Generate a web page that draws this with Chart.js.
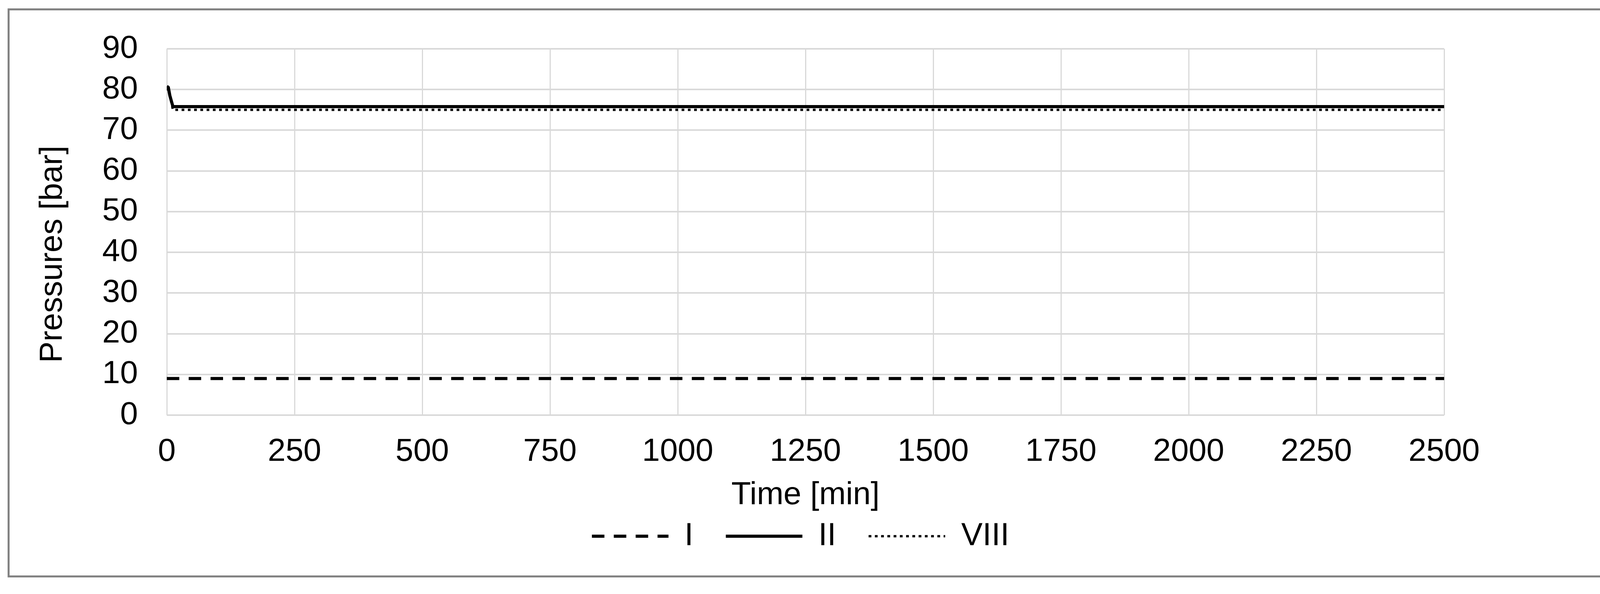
<!DOCTYPE html>
<html>
<head>
<meta charset="utf-8">
<script src="https://cdn.jsdelivr.net/npm/chart.js@4.4.1/dist/chart.umd.min.js"></script>
<style>
  html, body { margin: 0; padding: 0; background: #fff; }
  #wrap { position: absolute; left: 0; top: 0; width: 4161px; height: 1521px; }
</style>
</head>
<body>
<div id="wrap"><canvas id="pressureChart" width="4161" height="1521"></canvas></div>
<script>
// series I (dashed)
const timeI = [0, 2500];
const pressureI = [9, 9];

// series II (solid)
const timeII = [0, 3, 6, 12, 2500];
const pressureII = [80.8, 80.5, 78.5, 75.8, 75.8];

// series VIII (dotted)
const timeVIII = [0, 4, 12, 2500];
const pressureVIII = [80.2, 79.8, 75.0, 75.0];

const seriesLabels = ['I', 'II', 'VIII'];

const xMin = 0, xMax = 2500, xStep = 250;
const yMin = 0, yMax = 90, yStep = 10;

function toPoints(xs, ys) {
    return xs.map((x, i) => ({ x: x, y: ys[i] }));
}

const FONT = '"Liberation Sans", Arial, sans-serif';

// white page + grey outer frame
const framePlugin = {
    id: 'frame',
    beforeDraw(chart) {
        const { ctx } = chart;
        ctx.save();
        ctx.fillStyle = '#ffffff';
        ctx.fillRect(0, 0, chart.width, chart.height);
        ctx.strokeStyle = '#7f7f7f';
        ctx.lineWidth = 5;
        ctx.strokeRect(22, 24, 4106, 1452);
        ctx.restore();
    }
};

const ctx = document.getElementById('pressureChart').getContext('2d');

new Chart(ctx, {
    type: 'line',
    data: {
        datasets: [{
            label: seriesLabels[0],
            data: toPoints(timeI, pressureI),
            borderColor: '#000000',
            borderWidth: 8,
            borderDash: [32, 24]
        }, {
            label: seriesLabels[1],
            data: toPoints(timeII, pressureII),
            borderColor: '#000000',
            borderWidth: 8
        }, {
            label: seriesLabels[2],
            data: toPoints(timeVIII, pressureVIII),
            borderColor: '#000000',
            borderWidth: 6,
            borderDash: [7, 9]
        }]
    },
    options: {
        responsive: false,
        animation: false,
        devicePixelRatio: 1,
        elements: {
            point: { radius: 0, hoverRadius: 0 },
            line: { tension: 0, borderCapStyle: 'butt' }
        },
        layout: {
            padding: { top: 125, bottom: 97, left: 0, right: 62 }
        },
        plugins: {
            tooltip: { enabled: false },
            legend: {
                display: true,
                position: 'bottom',
                labels: {
                    usePointStyle: true,
                    pointStyleWidth: 196,
                    padding: 83,
                    color: '#000000',
                    font: { family: FONT, size: 82 },
                    generateLabels: function (chart) {
                        return chart.data.datasets.map((ds, i) => ({
                            text: ds.label,
                            fillStyle: ds.borderColor,
                            strokeStyle: ds.borderColor,
                            fontColor: '#000000',
                            lineWidth: ds.borderWidth,
                            lineDash: ds.borderDash || [],
                            lineCap: 'butt',
                            pointStyle: 'line',
                            hidden: false,
                            datasetIndex: i
                        }));
                    }
                }
            }
        },
        scales: {
            x: {
                type: 'linear',
                min: xMin,
                max: xMax,
                afterFit: function (scale) { scale.height = 186; },
                ticks: {
                    stepSize: xStep,
                    padding: 45,
                    color: '#000000',
                    font: { family: FONT, size: 82 },
                    callback: function (val) { return String(val); }
                },
                grid: { color: '#d9d9d9', lineWidth: 3, drawTicks: false },
                border: { display: false },
                title: {
                    display: true,
                    text: 'Time [min]',
                    color: '#000000',
                    font: { family: FONT, size: 82 },
                    padding: { top: 0, bottom: -69 }
                }
            },
            y: {
                type: 'linear',
                position: 'left',
                min: yMin,
                max: yMax,
                afterFit: function (scale) { scale.width = 427; },
                ticks: {
                    stepSize: yStep,
                    padding: 74,
                    color: '#000000',
                    font: { family: FONT, size: 82 },
                    callback: function (val) { return String(val); }
                },
                grid: { color: '#d9d9d9', lineWidth: 4, drawTicks: false },
                border: { display: false },
                title: {
                    display: true,
                    text: 'Pressures [bar]     ',
                    color: '#000000',
                    font: { family: FONT, size: 82 },
                    padding: { top: 86, bottom: 0 }
                }
            },
            // empty right-hand box, keeps the plot's right edge where the original has it
            yRight: {
                type: 'linear',
                position: 'right',
                min: yMin,
                max: yMax,
                afterFit: function (scale) { scale.width = 402; },
                ticks: { display: false },
                grid: { display: false, drawTicks: false },
                border: { display: false }
            }
        }
    },
    plugins: [framePlugin]
});
</script>
</body>
</html>
